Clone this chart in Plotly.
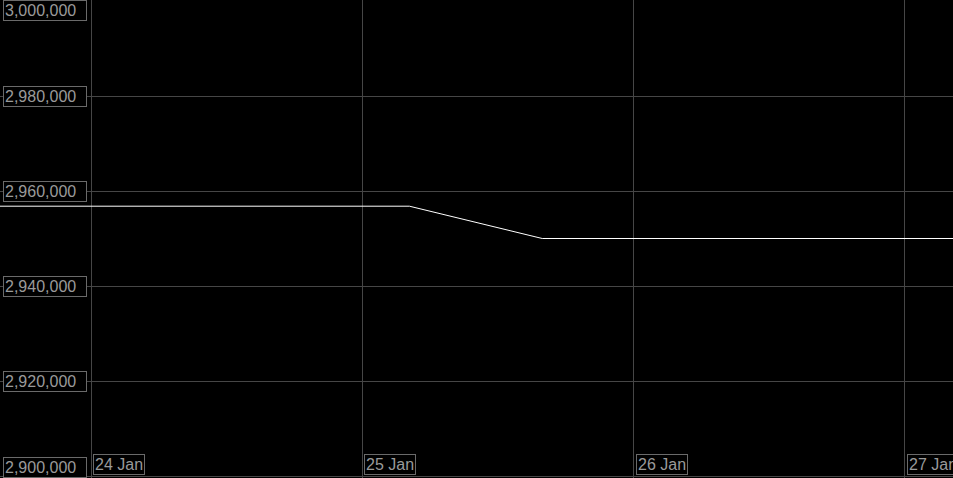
import plotly.graph_objects as go

# Data
times = ["2024-01-23 12:00", "2024-01-25 04:10", "2024-01-25 15:55", "2024-01-27 12:00"]
values = [2956800, 2956800, 2950000, 2950000]

y_ticks = [2900000, 2920000, 2940000, 2960000, 2980000, 3000000]
y_tick_labels = ["2,900,000", "2,920,000", "2,940,000", "2,960,000", "2,980,000", "3,000,000"]
x_ticks = ["2024-01-24", "2024-01-25", "2024-01-26", "2024-01-27"]
x_tick_labels = ["24 Jan", "25 Jan", "26 Jan", "27 Jan"]

FONT = "Liberation Sans, Arial, sans-serif"
LABEL_COLOR = "#9a9a9a"
BOX_COLOR = "#6a6a6a"
GRID_COLOR = "#464646"

fig = go.Figure()
fig.add_trace(go.Scatter(x=times, y=values, mode="lines",
                         line=dict(color="#ffffff", width=1), hoverinfo="skip"))

annotations = []
for i, (v, t) in enumerate(zip(y_ticks, y_tick_labels)):
    if i == len(y_ticks) - 1:
        anchor, ypos, yref = "top", 1, "paper"
    elif i == 0:
        anchor, ypos, yref = "bottom", 0, "paper"
    else:
        anchor, ypos, yref = "middle", v, "y"
    annotations.append(dict(
        x=0, xref="paper", xanchor="left", xshift=3,
        y=ypos, yref=yref, yanchor=anchor,
        text=t, showarrow=False, width=80, align="left",
        font=dict(family=FONT, size=16, color=LABEL_COLOR),
        bgcolor="#000000", bordercolor=BOX_COLOR, borderwidth=1, borderpad=1,
    ))
for d, t in zip(x_ticks, x_tick_labels):
    annotations.append(dict(
        x=d, xref="x", xanchor="left", xshift=2,
        y=0, yref="paper", yanchor="bottom", yshift=3,
        text=t, showarrow=False,
        font=dict(family=FONT, size=16, color=LABEL_COLOR),
        bgcolor="#000000", bordercolor=BOX_COLOR, borderwidth=1, borderpad=1,
    ))

fig.update_layout(
    width=953, height=478,
    margin=dict(l=0, r=0, t=0, b=0),
    paper_bgcolor="#000000", plot_bgcolor="#000000",
    showlegend=False,
    annotations=annotations,
    xaxis=dict(range=["2024-01-23 15:57", "2024-01-27 04:15"],
               tickvals=x_ticks, showticklabels=False,
               showgrid=True, gridcolor=GRID_COLOR, gridwidth=1,
               zeroline=False, showline=False, fixedrange=True),
    yaxis=dict(range=[2899579, 3000210],
               tickvals=y_ticks, showticklabels=False,
               showgrid=True, gridcolor=GRID_COLOR, gridwidth=1,
               zeroline=False, showline=False, fixedrange=True),
)

fig.write_html(
    "out.html",
    config={"displayModeBar": False, "staticPlot": True},
    post_script="document.body.style.margin='0';document.body.style.padding='0';"
                "document.body.style.background='#000';"
                "document.body.style.overflow='hidden';",
)
